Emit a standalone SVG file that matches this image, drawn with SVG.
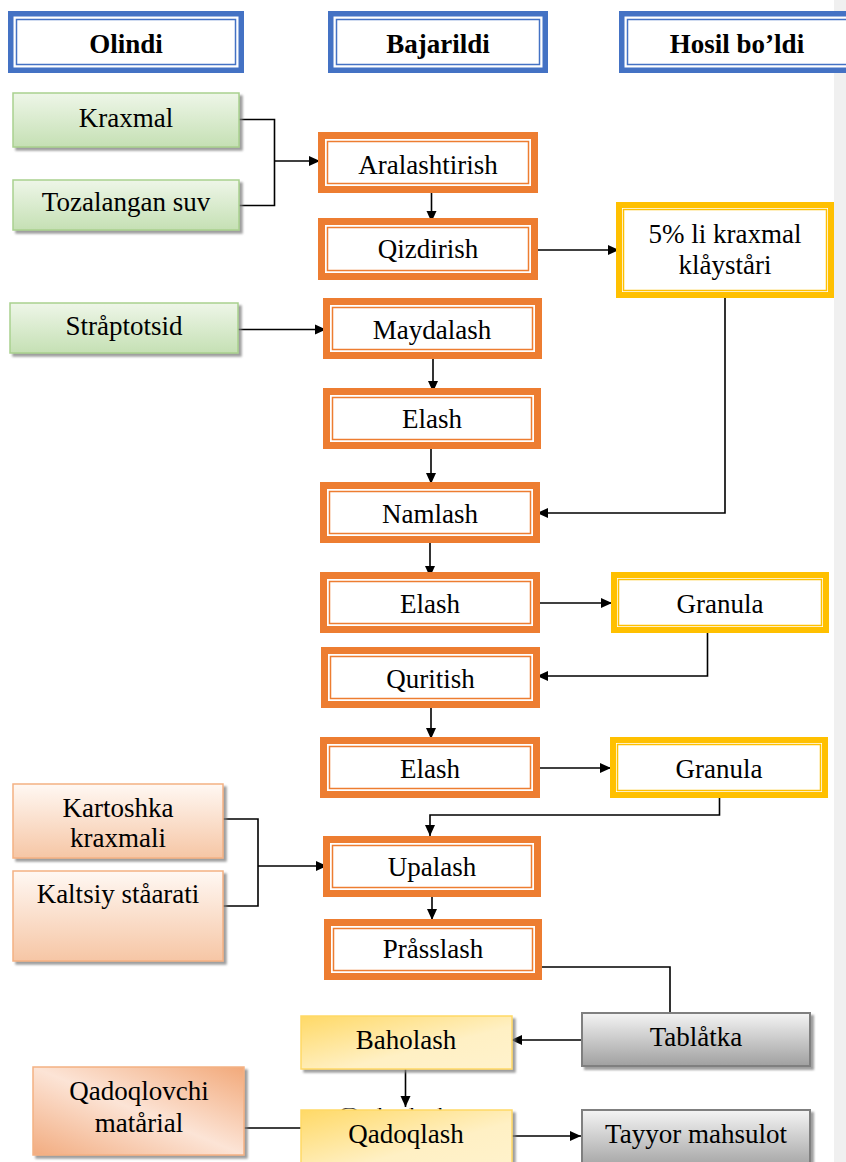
<svg xmlns="http://www.w3.org/2000/svg" width="846" height="1162" viewBox="0 0 846 1162">
  <style>
    text { font-family: "Liberation Serif", "Times New Roman", serif; font-size: 27px; fill: #000; text-anchor: middle; }
    .hdr-t { font-weight: bold; }
    .hdr-o { fill: #fff; stroke: #4472C4; stroke-width: 5.5; }
    .hdr-i { fill: none; stroke: #4472C4; stroke-width: 1.5; }
    .proc-o { fill: #fff; stroke: #ED7D31; stroke-width: 7; }
    .proc-i { fill: none; stroke: #ED7D31; stroke-width: 1.5; }
    .prod-o { fill: #fff; stroke: #FFC000; stroke-width: 6; }
    .prod-i { fill: none; stroke: #FFC000; stroke-width: 1.5; }
    .green { fill: url(#gGreen); stroke: #A9D18E; stroke-width: 1.5; filter: url(#shadow); }
    .peach { fill: url(#gPeach); stroke: #F4B183; stroke-width: 1.5; filter: url(#shadow); }
    .peach2 { fill: url(#gPeach2); stroke: #F4B183; stroke-width: 1.5; filter: url(#shadow); }
    .gold { fill: url(#gGold); stroke: #FFD966; stroke-width: 1.5; filter: url(#shadow); }
    .grey { fill: url(#gGrey); stroke: #7F7F7F; stroke-width: 2; filter: url(#shadow); }
    .link { fill: none; stroke: #000; stroke-width: 1.6; }
    .arrow { marker-end: url(#tip); }
    .hidden-cap { font-size: 11px; }
  </style>
  <defs>
    <marker id="tip" markerUnits="userSpaceOnUse" markerWidth="12" markerHeight="11" refX="11" refY="5.5" orient="auto">
      <path d="M0,0.5 L11,5.5 L0,10.5 z" fill="#000"/>
    </marker>
    <filter id="shadow" x="-10%" y="-10%" width="130%" height="140%">
      <feDropShadow dx="3" dy="3" stdDeviation="1" flood-color="#7f7f7f" flood-opacity="0.75"/>
    </filter>
    <linearGradient id="gGreen" x1="0" y1="0" x2="0" y2="1">
      <stop offset="0" stop-color="#EEF6E8"/>
      <stop offset="1" stop-color="#C5E0B4"/>
    </linearGradient>
    <linearGradient id="gPeach" x1="0" y1="0" x2="0" y2="1">
      <stop offset="0" stop-color="#FFF8F3"/>
      <stop offset="1" stop-color="#F6C6A5"/>
    </linearGradient>
    <linearGradient id="gPeach2" x1="1" y1="0" x2="0" y2="1">
      <stop offset="0" stop-color="#F2A97A"/>
      <stop offset="0.5" stop-color="#FCE4D6"/>
      <stop offset="1" stop-color="#F2AC80"/>
    </linearGradient>
    <linearGradient id="gGold" x1="0" y1="0" x2="1" y2="1">
      <stop offset="0" stop-color="#FFD966"/>
      <stop offset="0.6" stop-color="#FFF0C4"/>
      <stop offset="1" stop-color="#FFF2CC"/>
    </linearGradient>
    <linearGradient id="gGrey" x1="0" y1="0" x2="0" y2="1">
      <stop offset="0" stop-color="#F4F4F4"/>
      <stop offset="1" stop-color="#A0A0A0"/>
    </linearGradient>
  </defs>

  <rect width="846" height="1162" fill="#fff"/>
  <rect x="834" y="0" width="12" height="1162" fill="#F0F0F0"/>

  <!-- column headings -->
  <g id="hdr-olindi">
    <rect class="hdr-o" x="10.75" y="13.75" width="230.5" height="56.5"/>
    <rect class="hdr-i" x="16.5" y="19.5" width="219" height="45"/>
    <text class="hdr-t" x="126" y="53">Olindi</text>
  </g>
  <g id="hdr-bajarildi">
    <rect class="hdr-o" x="330.75" y="13.75" width="214.5" height="56.5"/>
    <rect class="hdr-i" x="336.5" y="19.5" width="203" height="45"/>
    <text class="hdr-t" x="438" y="53">Bajarildi</text>
  </g>
  <g id="hdr-hosil">
    <rect class="hdr-o" x="621.75" y="13.75" width="240" height="56.5"/>
    <rect class="hdr-i" x="627.5" y="19.5" width="240" height="45"/>
    <text class="hdr-t" x="737" y="53">Hosil bo’ldi</text>
  </g>

  <!-- connectors -->
  <g id="connectors">
    <path class="link" d="M239,119.5 H274.5 V205.5 H239"/>
    <path class="link arrow" d="M274.5,161 H320"/>
    <path class="link arrow" d="M431.5,193 V222"/>
    <path class="link arrow" d="M538,250 H619"/>
    <path class="link arrow" d="M725,298 V513 H537"/>
    <path class="link arrow" d="M238,329.5 H326"/>
    <path class="link arrow" d="M433,359 V392"/>
    <path class="link arrow" d="M431,449 V484"/>
    <path class="link arrow" d="M430,543 V577"/>
    <path class="link arrow" d="M540,603 H612"/>
    <path class="link arrow" d="M707.5,633 V676 H537"/>
    <path class="link arrow" d="M431,708 V739"/>
    <path class="link arrow" d="M540,768 H611"/>
    <path class="link arrow" d="M719.5,798 V815 H430 V836"/>
    <path class="link" d="M223,819 H258 V906 H223"/>
    <path class="link arrow" d="M258,866 H327"/>
    <path class="link arrow" d="M432,897 V920"/>
    <path class="link" d="M542,967 H670 V1013"/>
    <path class="link arrow" d="M582,1040 H511"/>
    <path class="link arrow" d="M405.5,1069 V1107"/>
    <path class="link arrow" d="M512,1136 H581"/>
    <path class="link" d="M244,1128 H301"/>
  </g>

  <!-- inputs -->
  <g id="n-kraxmal">
    <rect class="green" x="13" y="93" width="226" height="54"/>
    <text x="126" y="127">Kraxmal</text>
  </g>
  <g id="n-suv">
    <rect class="green" x="13" y="180" width="226" height="50"/>
    <text x="126" y="211">Tozalangan suv</text>
  </g>
  <g id="n-streptotsid">
    <rect class="green" x="10" y="303" width="228" height="50"/>
    <text x="124" y="335">Stråptotsid</text>
  </g>
  <g id="n-kartoshka">
    <rect class="peach" x="13" y="784" width="210" height="74"/>
    <text x="118" y="817">Kartoshka</text>
    <text x="118" y="847">kraxmali</text>
  </g>
  <g id="n-kaltsiy">
    <rect class="peach" x="13" y="871" width="210" height="90"/>
    <text x="118" y="903">Kaltsiy ståarati</text>
  </g>
  <g id="n-qadoqlovchi">
    <rect class="peach2" x="33" y="1067" width="211" height="88"/>
    <text x="139" y="1100">Qadoqlovchi</text>
    <text x="139" y="1132">matårial</text>
  </g>

  <!-- process steps -->
  <g id="n-aralashtirish">
    <rect class="proc-o" x="321.5" y="135.5" width="213" height="54"/>
    <rect class="proc-i" x="327.5" y="141.5" width="201" height="42"/>
    <text x="428" y="174">Aralashtirish</text>
  </g>
  <g id="n-qizdirish">
    <rect class="proc-o" x="321.5" y="221.5" width="213" height="55"/>
    <rect class="proc-i" x="327.5" y="227.5" width="201" height="43"/>
    <text x="428" y="258">Qizdirish</text>
  </g>
  <g id="n-maydalash">
    <rect class="proc-o" x="326.5" y="301.5" width="212" height="54"/>
    <rect class="proc-i" x="332.5" y="307.5" width="200" height="42"/>
    <text x="432" y="339">Maydalash</text>
  </g>
  <g id="n-elash1">
    <rect class="proc-o" x="326.5" y="391.5" width="211" height="54"/>
    <rect class="proc-i" x="332.5" y="397.5" width="199" height="42"/>
    <text x="432" y="428">Elash</text>
  </g>
  <g id="n-namlash">
    <rect class="proc-o" x="323.5" y="485.5" width="213" height="54"/>
    <rect class="proc-i" x="329.5" y="491.5" width="201" height="42"/>
    <text x="430" y="523">Namlash</text>
  </g>
  <g id="n-elash2">
    <rect class="proc-o" x="323.5" y="575.5" width="213" height="54"/>
    <rect class="proc-i" x="329.5" y="581.5" width="201" height="42"/>
    <text x="430" y="613">Elash</text>
  </g>
  <g id="n-quritish">
    <rect class="proc-o" x="324.5" y="650.5" width="212" height="54"/>
    <rect class="proc-i" x="330.5" y="656.5" width="200" height="42"/>
    <text x="430.5" y="688">Quritish</text>
  </g>
  <g id="n-elash3">
    <rect class="proc-o" x="323.5" y="740.5" width="213" height="54"/>
    <rect class="proc-i" x="329.5" y="746.5" width="201" height="42"/>
    <text x="430" y="778">Elash</text>
  </g>
  <g id="n-upalash">
    <rect class="proc-o" x="326.5" y="839.5" width="211" height="54"/>
    <rect class="proc-i" x="332.5" y="845.5" width="199" height="42"/>
    <text x="432" y="876">Upalash</text>
  </g>
  <g id="n-presslash">
    <rect class="proc-o" x="327.5" y="922.5" width="211" height="54"/>
    <rect class="proc-i" x="333.5" y="928.5" width="199" height="42"/>
    <text x="433" y="958">Pråsslash</text>
  </g>

  <!-- products -->
  <g id="n-kleyster">
    <rect class="prod-o" x="619" y="205" width="212" height="90"/>
    <rect class="prod-i" x="623.5" y="209.5" width="203" height="81"/>
    <text x="725" y="243">5% li kraxmal</text>
    <text x="725" y="274">klåyståri</text>
  </g>
  <g id="n-granula1">
    <rect class="prod-o" x="614" y="575" width="212" height="55"/>
    <rect class="prod-i" x="618.5" y="579.5" width="203" height="46"/>
    <text x="720" y="613">Granula</text>
  </g>
  <g id="n-granula2">
    <rect class="prod-o" x="613" y="740" width="212" height="55"/>
    <rect class="prod-i" x="617.5" y="744.5" width="203" height="46"/>
    <text x="719" y="778">Granula</text>
  </g>

  <!-- finishing -->
  <g id="n-tabletka">
    <rect class="grey" x="582" y="1013" width="228" height="53"/>
    <text x="696" y="1046">Tablåtka</text>
  </g>
  <g id="n-baholash">
    <rect class="gold" x="301" y="1016" width="211" height="53"/>
    <text x="406" y="1049">Baholash</text>
  </g>
  <g id="n-qadoqlash">
    <!-- older caption sitting under the box; only its top edge shows -->
    <text class="hidden-cap" x="395" y="1115" textLength="110" lengthAdjust="spacingAndGlyphs">Qadoqlash</text>
    <rect class="gold" x="301" y="1110" width="211" height="60"/>
    <text x="406" y="1143">Qadoqlash</text>
  </g>
  <g id="n-tayyor">
    <rect class="grey" x="582" y="1110" width="228" height="60"/>
    <text x="696" y="1143">Tayyor mahsulot</text>
  </g>
</svg>
